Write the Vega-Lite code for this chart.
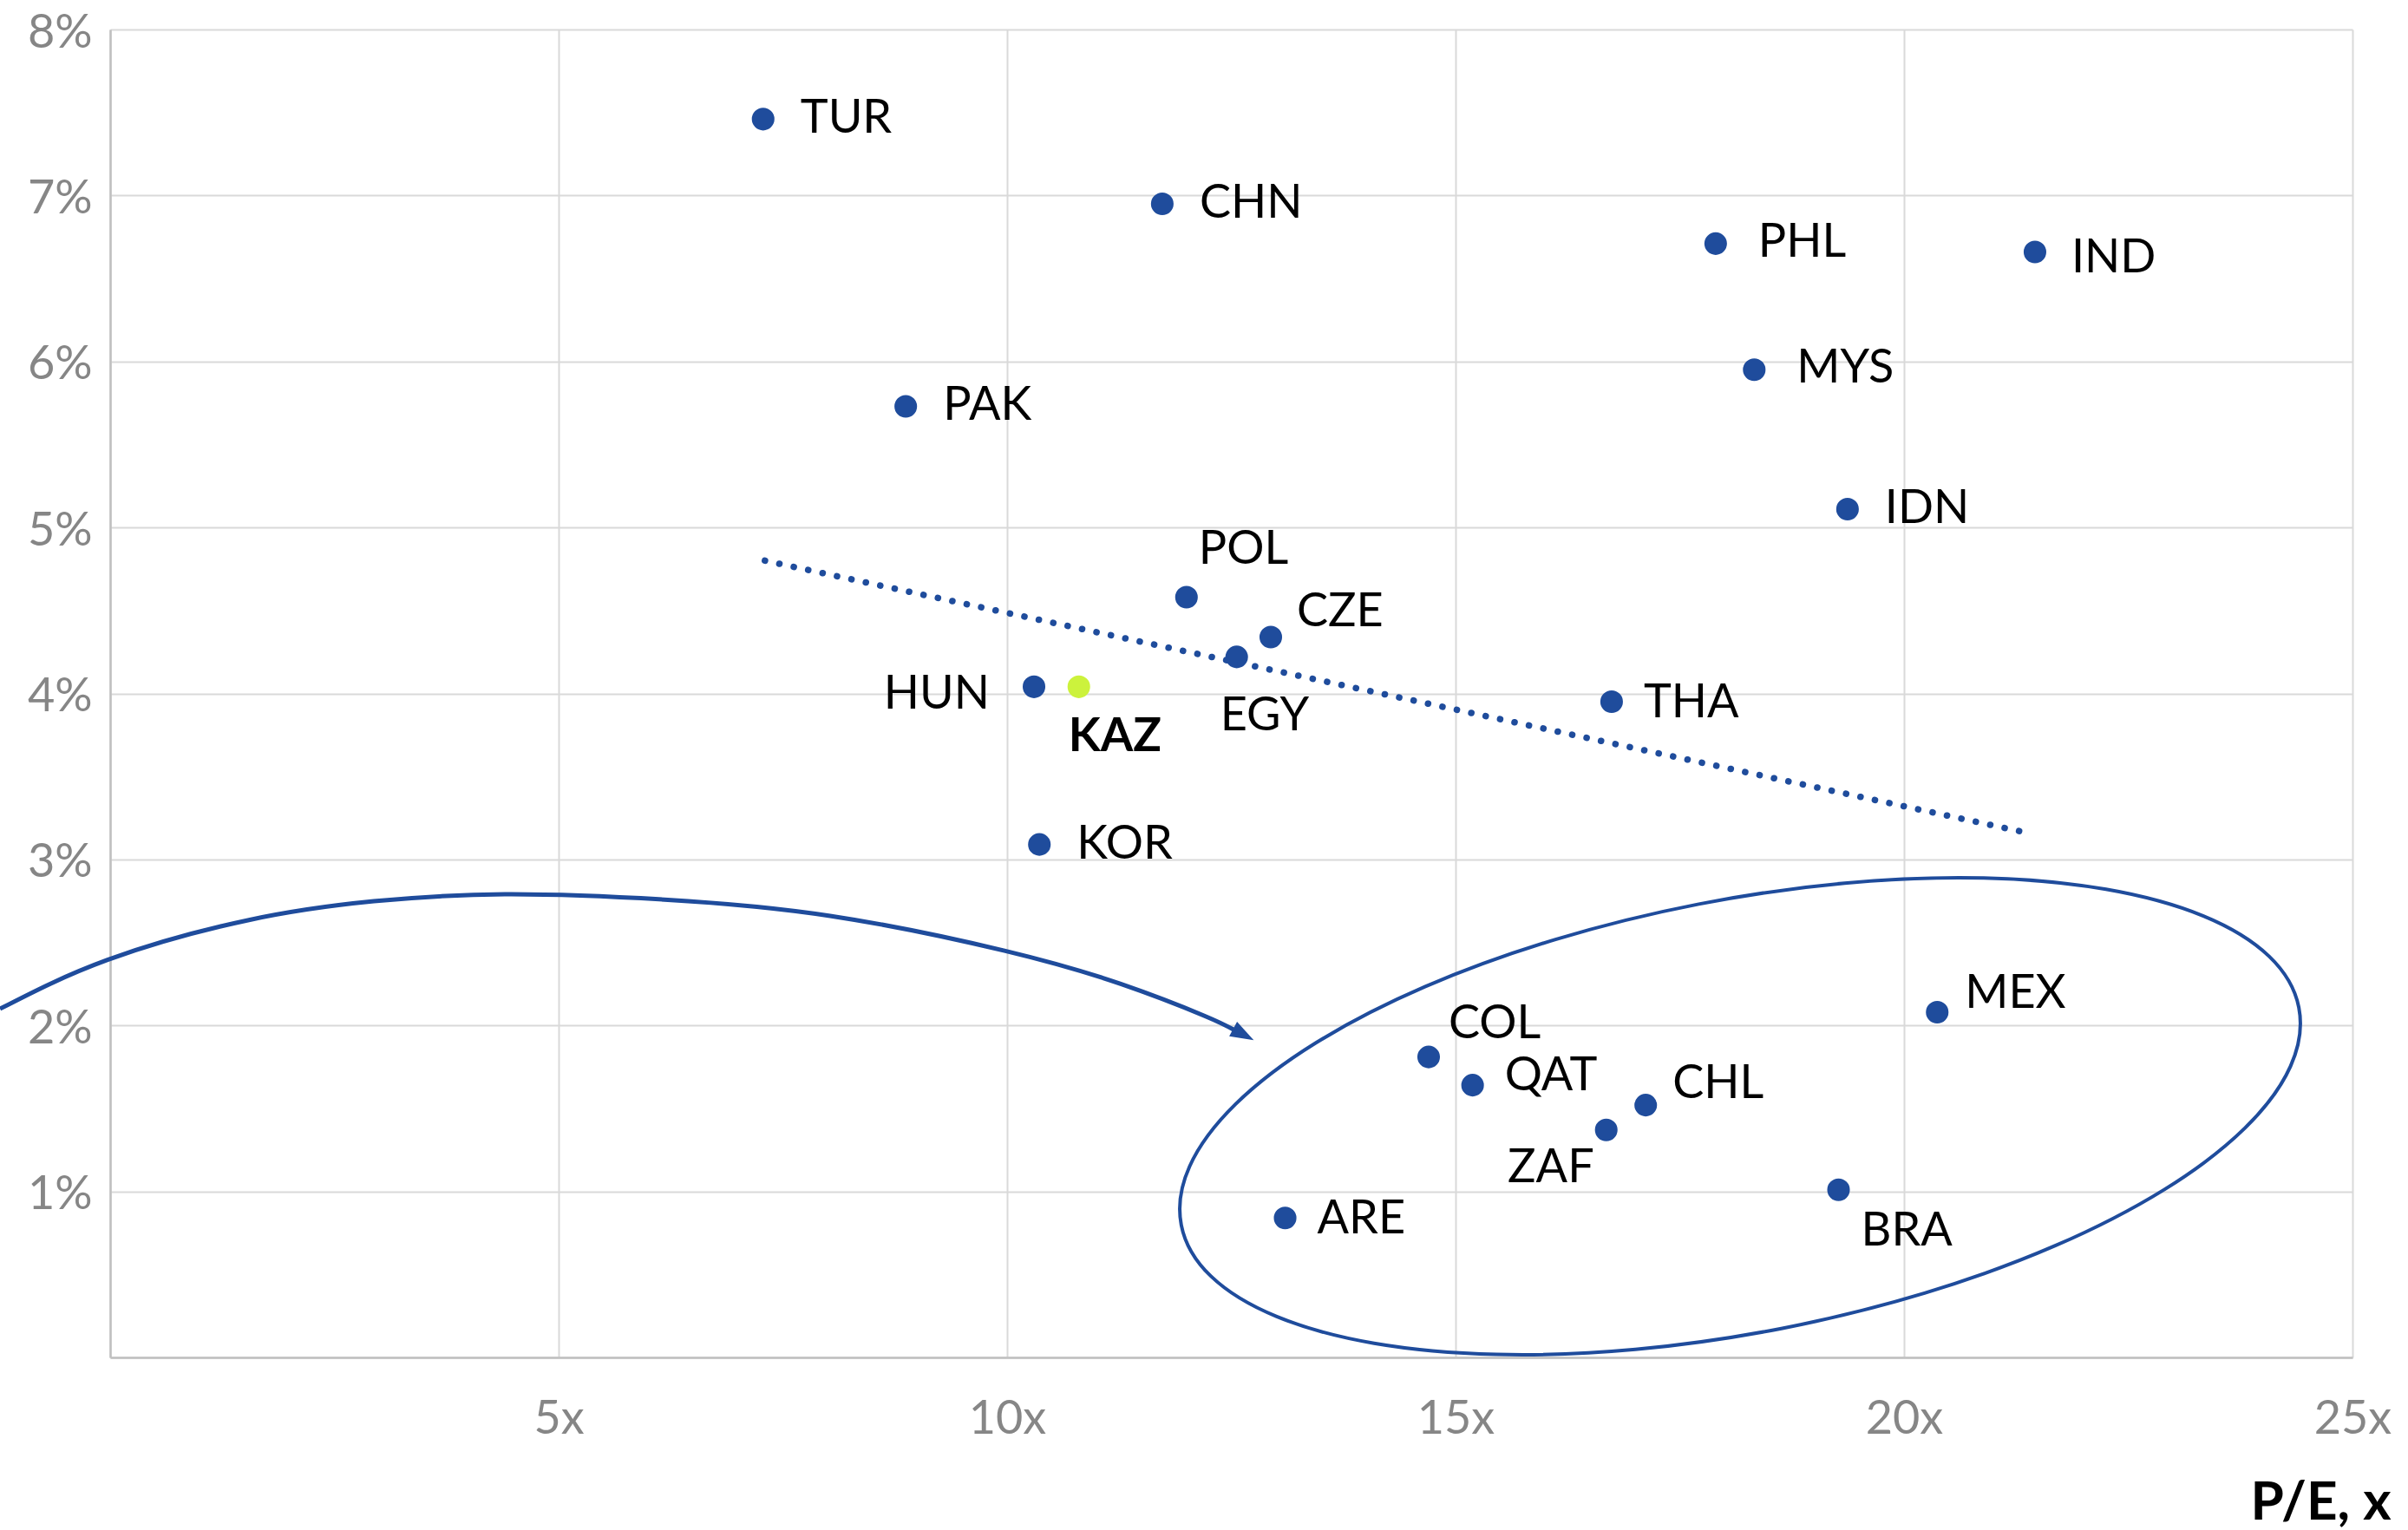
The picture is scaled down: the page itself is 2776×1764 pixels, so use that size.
{
  "$schema": "https://vega.github.io/schema/vega-lite/v6.json",
  "width": 2585,
  "height": 1531,
  "autosize": {"type": "none"},
  "padding": {"left": 127, "top": 34, "right": 64, "bottom": 199},
  "background": "white",
  "config": {"view": {"stroke": null}, "font": "Lato"},
  "datasets": {
    "countries": [
      {"name": "TUR", "pe": 7.28, "v": 7.46},
      {"name": "CHN", "pe": 11.73, "v": 6.95},
      {"name": "PHL", "pe": 17.9, "v": 6.71},
      {"name": "IND", "pe": 21.46, "v": 6.66},
      {"name": "MYS", "pe": 18.33, "v": 5.95},
      {"name": "PAK", "pe": 8.87, "v": 5.73},
      {"name": "IDN", "pe": 19.37, "v": 5.11},
      {"name": "POL", "pe": 12.0, "v": 4.58},
      {"name": "CZE", "pe": 12.94, "v": 4.34},
      {"name": "EGY", "pe": 12.56, "v": 4.22},
      {"name": "HUN", "pe": 10.3, "v": 4.04},
      {"name": "KAZ", "pe": 10.8, "v": 4.04},
      {"name": "THA", "pe": 16.74, "v": 3.95},
      {"name": "KOR", "pe": 10.36, "v": 3.09},
      {"name": "MEX", "pe": 20.37, "v": 2.08},
      {"name": "COL", "pe": 14.7, "v": 1.81},
      {"name": "QAT", "pe": 15.19, "v": 1.64},
      {"name": "CHL", "pe": 17.12, "v": 1.52},
      {"name": "ZAF", "pe": 16.68, "v": 1.37},
      {"name": "BRA", "pe": 19.27, "v": 1.01},
      {"name": "ARE", "pe": 13.1, "v": 0.84}
    ],
    "trend": [
      {"pe": 7.3, "v": 4.8},
      {"pe": 21.41, "v": 3.156}
    ],
    "ellipse": [
      {"i": 0, "pe": 24.402, "v": 2.108},
      {"i": 1, "pe": 24.309, "v": 1.754},
      {"i": 2, "pe": 23.798, "v": 1.38},
      {"i": 3, "pe": 22.904, "v": 1.012},
      {"i": 4, "pe": 21.686, "v": 0.673},
      {"i": 5, "pe": 20.229, "v": 0.387},
      {"i": 6, "pe": 18.632, "v": 0.174},
      {"i": 7, "pe": 17.005, "v": 0.048},
      {"i": 8, "pe": 15.456, "v": 0.018},
      {"i": 9, "pe": 14.092, "v": 0.085},
      {"i": 10, "pe": 13.006, "v": 0.246},
      {"i": 11, "pe": 12.273, "v": 0.489},
      {"i": 12, "pe": 11.942, "v": 0.798},
      {"i": 13, "pe": 12.035, "v": 1.151},
      {"i": 14, "pe": 12.546, "v": 1.525},
      {"i": 15, "pe": 13.44, "v": 1.894},
      {"i": 16, "pe": 14.658, "v": 2.233},
      {"i": 17, "pe": 16.115, "v": 2.518},
      {"i": 18, "pe": 17.712, "v": 2.731},
      {"i": 19, "pe": 19.339, "v": 2.857},
      {"i": 20, "pe": 20.888, "v": 2.888},
      {"i": 21, "pe": 22.252, "v": 2.82},
      {"i": 22, "pe": 23.338, "v": 2.659},
      {"i": 23, "pe": 24.071, "v": 2.416}
    ],
    "arrow": [
      {"pe": -1.228, "v": 2.1},
      {"pe": -0.029, "v": 2.395},
      {"pe": 1.547, "v": 2.635},
      {"pe": 2.94, "v": 2.748},
      {"pe": 4.4, "v": 2.79},
      {"pe": 6.18, "v": 2.758},
      {"pe": 8.027, "v": 2.66},
      {"pe": 9.971, "v": 2.45},
      {"pe": 11.267, "v": 2.25},
      {"pe": 12.195, "v": 2.059},
      {"pe": 12.524, "v": 1.975}
    ],
    "head": [
      {"pe": 12.635, "v": 1.945}
    ]
  },
  "encoding": {
    "x": {
      "field": "pe",
      "type": "quantitative",
      "scale": {"domain": [0, 25], "nice": false, "zero": false},
      "axis": {
        "values": [0, 5, 10, 15, 20, 25],
        "labelExpr": "datum.value == 0 ? '' : datum.value + 'x'",
        "labelFont": "Lato",
        "labelFontSize": 54,
        "labelColor": "#868686",
        "labelPadding": 44,
        "labelFlush": false,
        "labelOverlap": false,
        "ticks": false,
        "tickSize": 0,
        "domainColor": "#c0c0c0",
        "domainWidth": 2.5,
        "gridColor": "#d9d9d9",
        "gridWidth": 2,
        "title": "P/E, x",
        "titleFont": "Lato",
        "titleFontSize": 62,
        "titleFontWeight": "bold",
        "titleColor": "#000000",
        "titleAlign": "right",
        "titleBaseline": "alphabetic",
        "titleX": 2629,
        "titleY": 186
      }
    },
    "y": {
      "field": "v",
      "type": "quantitative",
      "scale": {"domain": [0, 8], "nice": false, "zero": false},
      "axis": {
        "values": [0, 1, 2, 3, 4, 5, 6, 7, 8],
        "labelExpr": "datum.value == 0 ? '' : datum.value + '%'",
        "labelFont": "Lato",
        "labelFontSize": 54,
        "labelColor": "#868686",
        "labelPadding": 21,
        "labelOffset": 4,
        "labelFlush": false,
        "labelOverlap": false,
        "ticks": false,
        "tickSize": 0,
        "domainColor": "#c0c0c0",
        "domainWidth": 2.5,
        "gridColor": "#d9d9d9",
        "gridWidth": 2,
        "title": null
      }
    }
  },
  "layer": [
    {
      "data": {"name": "ellipse"},
      "mark": {"type": "line", "interpolate": "cardinal-closed", "stroke": "#1f4c9c", "strokeWidth": 4},
      "encoding": {"order": {"field": "i", "type": "quantitative"}}
    },
    {
      "data": {"name": "arrow"},
      "mark": {"type": "line", "interpolate": "natural", "stroke": "#1f4c9c", "strokeWidth": 5},
      "encoding": {}
    },
    {
      "data": {"name": "head"},
      "mark": {"type": "point", "shape": "M1,0L-1,-0.7L-1,0.7Z", "filled": true, "fill": "#1f4c9c", "size": 729, "angle": 28.5, "opacity": 1, "strokeWidth": 0}
    },
    {
      "data": {"name": "countries"},
      "mark": {"type": "circle", "size": 680, "opacity": 1},
      "encoding": {
        "color": {"condition": {"test": "datum.name === 'KAZ'", "value": "#ccf23c"}, "value": "#1f4c9c"}
      }
    },
    {
      "data": {"name": "trend"},
      "mark": {"type": "line", "stroke": "#1f4c9c", "strokeWidth": 7.5, "strokeDash": [0.1, 16.9], "strokeCap": "round"},
      "encoding": {}
    },
    {
      "data": {"name": "countries"},
      "transform": [{"filter": {"field": "name", "oneOf": ["TUR", "CHN", "PAK", "IDN", "KOR"]}}],
      "mark": {"type": "text", "align": "left", "baseline": "middle", "dx": 43, "dy": 0, "fontSize": 54, "color": "#000000"},
      "encoding": {"text": {"field": "name"}}
    },
    {
      "data": {"name": "countries"},
      "transform": [{"filter": {"field": "name", "oneOf": ["MYS", "PHL"]}}],
      "mark": {"type": "text", "align": "left", "baseline": "middle", "dx": 49, "dy": -1, "fontSize": 54, "color": "#000000"},
      "encoding": {"text": {"field": "name"}}
    },
    {
      "data": {"name": "countries"},
      "transform": [{"filter": {"field": "name", "oneOf": ["IND"]}}],
      "mark": {"type": "text", "align": "left", "baseline": "middle", "dx": 42, "dy": 8, "fontSize": 54, "color": "#000000"},
      "encoding": {"text": {"field": "name"}}
    },
    {
      "data": {"name": "countries"},
      "transform": [{"filter": {"field": "name", "oneOf": ["THA", "ARE"]}}],
      "mark": {"type": "text", "align": "left", "baseline": "middle", "dx": 37, "dy": 2, "fontSize": 54, "color": "#000000"},
      "encoding": {"text": {"field": "name"}}
    },
    {
      "data": {"name": "countries"},
      "transform": [{"filter": {"field": "name", "oneOf": ["QAT"]}}],
      "mark": {"type": "text", "align": "left", "baseline": "middle", "dx": 37, "dy": -10, "fontSize": 54, "color": "#000000"},
      "encoding": {"text": {"field": "name"}}
    },
    {
      "data": {"name": "countries"},
      "transform": [{"filter": {"field": "name", "oneOf": ["POL"]}}],
      "mark": {"type": "text", "align": "left", "baseline": "middle", "dx": 14, "dy": -55, "fontSize": 54, "color": "#000000"},
      "encoding": {"text": {"field": "name"}}
    },
    {
      "data": {"name": "countries"},
      "transform": [{"filter": {"field": "name", "oneOf": ["CZE"]}}],
      "mark": {"type": "text", "align": "left", "baseline": "middle", "dx": 30, "dy": -28, "fontSize": 54, "color": "#000000"},
      "encoding": {"text": {"field": "name"}}
    },
    {
      "data": {"name": "countries"},
      "transform": [{"filter": {"field": "name", "oneOf": ["EGY"]}}],
      "mark": {"type": "text", "align": "left", "baseline": "middle", "dx": -19, "dy": 69, "fontSize": 54, "color": "#000000"},
      "encoding": {"text": {"field": "name"}}
    },
    {
      "data": {"name": "countries"},
      "transform": [{"filter": {"field": "name", "oneOf": ["HUN"]}}],
      "mark": {"type": "text", "align": "right", "baseline": "middle", "dx": -51, "dy": 9, "fontSize": 54, "color": "#000000"},
      "encoding": {"text": {"field": "name"}}
    },
    {
      "data": {"name": "countries"},
      "transform": [{"filter": {"field": "name", "oneOf": ["KAZ"]}}],
      "mark": {"type": "text", "align": "left", "baseline": "middle", "dx": -12, "dy": 58, "fontSize": 54, "fontWeight": "bold", "color": "#000000"},
      "encoding": {"text": {"field": "name"}}
    },
    {
      "data": {"name": "countries"},
      "transform": [{"filter": {"field": "name", "oneOf": ["COL"]}}],
      "mark": {"type": "text", "align": "left", "baseline": "middle", "dx": 23, "dy": -38, "fontSize": 54, "color": "#000000"},
      "encoding": {"text": {"field": "name"}}
    },
    {
      "data": {"name": "countries"},
      "transform": [{"filter": {"field": "name", "oneOf": ["CHL"]}}],
      "mark": {"type": "text", "align": "left", "baseline": "middle", "dx": 31, "dy": -24, "fontSize": 54, "color": "#000000"},
      "encoding": {"text": {"field": "name"}}
    },
    {
      "data": {"name": "countries"},
      "transform": [{"filter": {"field": "name", "oneOf": ["ZAF"]}}],
      "mark": {"type": "text", "align": "right", "baseline": "middle", "dx": -14, "dy": 44, "fontSize": 54, "color": "#000000"},
      "encoding": {"text": {"field": "name"}}
    },
    {
      "data": {"name": "countries"},
      "transform": [{"filter": {"field": "name", "oneOf": ["MEX"]}}],
      "mark": {"type": "text", "align": "left", "baseline": "middle", "dx": 32, "dy": -21, "fontSize": 54, "color": "#000000"},
      "encoding": {"text": {"field": "name"}}
    },
    {
      "data": {"name": "countries"},
      "transform": [{"filter": {"field": "name", "oneOf": ["BRA"]}}],
      "mark": {"type": "text", "align": "left", "baseline": "middle", "dx": 26, "dy": 48, "fontSize": 54, "color": "#000000"},
      "encoding": {"text": {"field": "name"}}
    }
  ]
}
